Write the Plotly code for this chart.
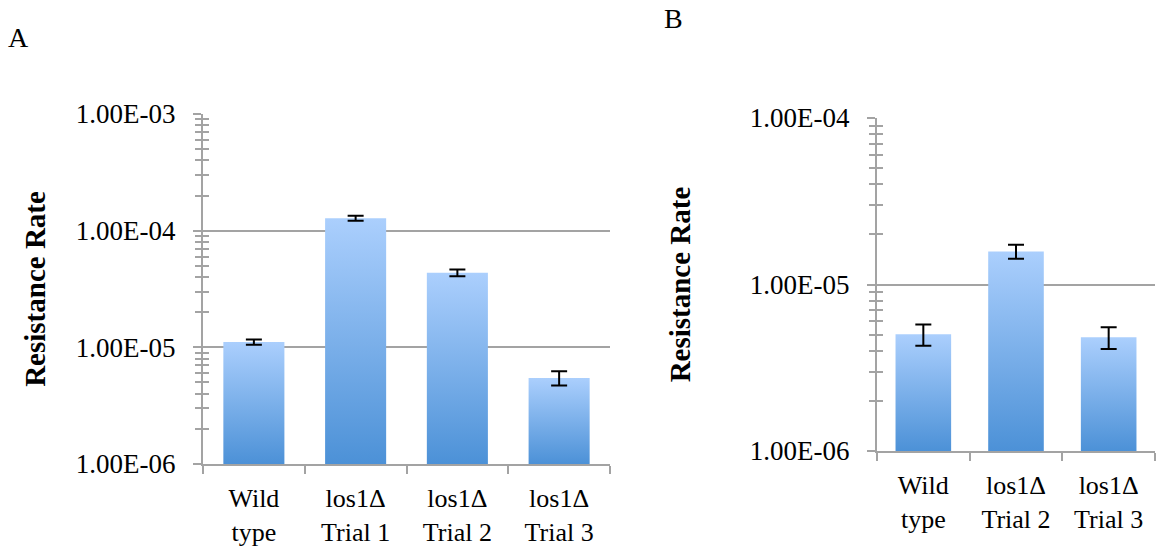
import plotly.graph_objects as go

# ---------------- data ----------------
a_categories = ["Wild<br>type", "los1Δ<br>Trial 1", "los1Δ<br>Trial 2", "los1Δ<br>Trial 3"]
a_values = [1.11e-5, 1.28e-4, 4.35e-5, 5.47e-6]
a_errors = [0.6e-6, 6.4e-6, 2.9e-6, 0.77e-6]

b_categories = ["Wild<br>type", "los1Δ<br>Trial 2", "los1Δ<br>Trial 3"]
b_values = [5.02e-6, 1.58e-5, 4.82e-6]
b_errors = [0.73e-6, 1.5e-6, 0.72e-6]

a_ytickvals = [1e-6, 1e-5, 1e-4, 1e-3]
a_yticktext = ["1.00E-06", "1.00E-05", "1.00E-04", "1.00E-03"]
b_ytickvals = [1e-6, 1e-5, 1e-4]
b_yticktext = ["1.00E-06", "1.00E-05", "1.00E-04"]

y_title = "Resistance Rate"

# ---------------- style ----------------
FONT = "Liberation Serif"
GRAY = "#a3a3a3"
TOP = "#abcffd"
BOTTOM = "#4c91d7"
BAR_W = 0.6
BASE = 1e-6

fig = go.Figure()


def add_panel(values, errors, xaxis, yaxis):
    for i, v in enumerate(values):
        x0, x1 = i - BAR_W / 2, i + BAR_W / 2
        fig.add_trace(go.Scatter(
            x=[x0, x0, x1, x1, x0], y=[BASE, v, v, BASE, BASE],
            mode="lines", line=dict(width=0), fill="toself",
            fillgradient=dict(type="vertical", colorscale=[[0, BOTTOM], [1, TOP]]),
            xaxis=xaxis, yaxis=yaxis, showlegend=False, hoverinfo="skip"))
    fig.add_trace(go.Scatter(
        x=list(range(len(values))), y=values, mode="markers",
        marker=dict(size=1, color="rgba(0,0,0,0)"),
        error_y=dict(type="data", array=errors, visible=True, color="black",
                     thickness=2, width=8),
        xaxis=xaxis, yaxis=yaxis, showlegend=False))


add_panel(a_values, a_errors, "x", "y")
add_panel(b_values, b_errors, "x2", "y2")


def minor_log(lo, hi):
    return [m * 10 ** e for e in range(lo, hi) for m in range(2, 10)]


# invisible helper traces so the inner-tick overlay axes are drawn
fig.add_trace(go.Scatter(x=[0], y=[a_values[0]], mode="markers",
                         marker=dict(size=1, color="rgba(0,0,0,0)"),
                         xaxis="x", yaxis="y3", showlegend=False, hoverinfo="skip"))
fig.add_trace(go.Scatter(x=[0], y=[b_values[0]], mode="markers",
                         marker=dict(size=1, color="rgba(0,0,0,0)"),
                         xaxis="x2", yaxis="y4", showlegend=False, hoverinfo="skip"))

yaxis_common = dict(
    type="log", showgrid=True, gridcolor=GRAY, gridwidth=1.5,
    showline=True, linecolor=GRAY, linewidth=2,
    ticks="outside", ticklen=8, tickcolor=GRAY, tickwidth=2,
    ticklabelstandoff=12, automargin=False,
    tickfont=dict(family=FONT, size=27, color="black"),
    zeroline=False,
)
overlay_common = dict(
    type="log", showgrid=False, showline=False, zeroline=False,
    showticklabels=False, ticks="", automargin=False, side="left",
)
xaxis_common = dict(
    showgrid=False, zeroline=False, showline=True, linecolor=GRAY, linewidth=2,
    ticks="", automargin=False, ticklabelstandoff=10,
    tickfont=dict(family=FONT, size=26, color="black"),
)

A_YDOM = [84 / 548, 434 / 548]
B_YDOM = [97 / 548, 430 / 548]

fig.update_layout(
    width=1156, height=548,
    margin=dict(l=0, r=0, t=0, b=0),
    paper_bgcolor="white", plot_bgcolor="white",
    showlegend=False,
    xaxis=dict(
        xaxis_common, domain=[203 / 1156, 610 / 1156], anchor="y",
        range=[-0.5, len(a_values) - 0.5],
        tickvals=list(range(len(a_categories))), ticktext=a_categories,
        minor=dict(tickvals=[i - 0.5 for i in range(len(a_values) + 1)],
                   ticks="outside", ticklen=8, tickcolor=GRAY, tickwidth=2, showgrid=False),
    ),
    yaxis=dict(
        yaxis_common, domain=A_YDOM, anchor="x",
        range=[-6, -3], tickvals=a_ytickvals, ticktext=a_yticktext,
        minor=dict(tickvals=minor_log(-6, -3), ticks="outside", ticklen=6,
                   tickcolor=GRAY, tickwidth=2, showgrid=False),
        title=dict(text="<b>" + y_title + "</b>", standoff=22,
                   font=dict(family=FONT, size=29, color="black")),
    ),
    yaxis3=dict(
        overlay_common, domain=A_YDOM, anchor="x", overlaying="y", range=[-6, -3],
        minor=dict(tickvals=minor_log(-6, -3), ticks="inside", ticklen=6,
                   tickcolor=GRAY, tickwidth=2, showgrid=False),
    ),
    xaxis2=dict(
        xaxis_common, domain=[877 / 1156, 1155 / 1156], anchor="y2",
        range=[-0.5, len(b_values) - 0.5],
        tickvals=list(range(len(b_categories))), ticktext=b_categories,
        minor=dict(tickvals=[i - 0.5 for i in range(len(b_values) + 1)],
                   ticks="outside", ticklen=8, tickcolor=GRAY, tickwidth=2, showgrid=False),
    ),
    yaxis2=dict(
        yaxis_common, domain=B_YDOM, anchor="x2",
        range=[-6, -4], tickvals=b_ytickvals, ticktext=b_yticktext,
        minor=dict(tickvals=minor_log(-6, -4), ticks="outside", ticklen=6,
                   tickcolor=GRAY, tickwidth=2, showgrid=False),
        title=dict(text="<b>" + y_title + "</b>", standoff=51,
                   font=dict(family=FONT, size=29, color="black")),
    ),
    yaxis4=dict(
        overlay_common, domain=B_YDOM, anchor="x2", overlaying="y2", range=[-6, -4],
        minor=dict(tickvals=minor_log(-6, -4), ticks="inside", ticklen=6,
                   tickcolor=GRAY, tickwidth=2, showgrid=False),
    ),
    annotations=[
        dict(text="A", x=18 / 1156, y=1 - 38 / 548, xref="paper", yref="paper",
             showarrow=False, xanchor="center", yanchor="middle",
             font=dict(family=FONT, size=28, color="black")),
        dict(text="B", x=673 / 1156, y=1 - 19 / 548, xref="paper", yref="paper",
             showarrow=False, xanchor="center", yanchor="middle",
             font=dict(family=FONT, size=28, color="black")),
    ],
)

fig.write_html("out.html", config={"displayModeBar": False},
               post_script="document.body.style.margin='0';document.body.style.overflow='hidden';")
